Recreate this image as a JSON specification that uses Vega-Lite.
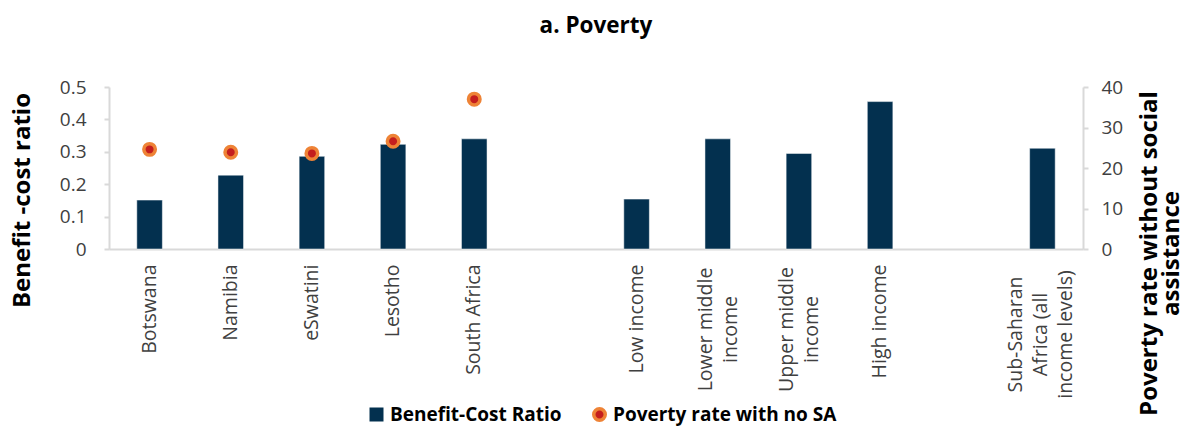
{
  "$schema": "https://vega.github.io/schema/vega-lite/v6.json",
  "width": 974,
  "height": 162,
  "autosize": {"type": "none"},
  "padding": {"left": 109, "top": 87, "right": 106, "bottom": 177},
  "config": {"view": {"stroke": null}, "font": "Open Sans"},
  "title": {
    "text": "a. Poverty",
    "anchor": "middle",
    "fontSize": 22.5,
    "fontWeight": "bold",
    "font": "Open Sans",
    "color": "#000000",
    "baseline": "bottom",
    "offset": 18
  },
  "data": {
    "values": [
      {"category": "Botswana", "bcr": 0.151, "poverty": 24.6},
      {"category": "Namibia", "bcr": 0.228, "poverty": 23.9},
      {"category": "eSwatini", "bcr": 0.286, "poverty": 23.6},
      {"category": "Lesotho", "bcr": 0.323, "poverty": 26.6},
      {"category": "South Africa", "bcr": 0.340, "poverty": 37.0},
      {"category": "Low income", "bcr": 0.154, "poverty": null},
      {"category": "Lower middle income", "bcr": 0.340, "poverty": null},
      {"category": "Upper middle income", "bcr": 0.295, "poverty": null},
      {"category": "High income", "bcr": 0.455, "poverty": null},
      {"category": "Sub-Saharan Africa (all income levels)", "bcr": 0.311, "poverty": null}
    ]
  },
  "encoding": {
    "x": {
      "field": "category",
      "type": "nominal",
      "sort": null,
      "scale": {
        "domain": ["Botswana", "Namibia", "eSwatini", "Lesotho", "South Africa", "gap1", "Low income", "Lower middle income", "Upper middle income", "High income", "gap2", "Sub-Saharan Africa (all income levels)"],
        "paddingInner": 0.685,
        "paddingOuter": 0.3425
      },
      "axis": {
        "title": null,
        "labelAngle": -90,
        "labelAlign": {
          "condition": {"test": "datum.value === 'Lower middle income' || datum.value === 'Upper middle income' || datum.value === 'Sub-Saharan Africa (all income levels)'", "value": "center"},
          "value": "right"
        },
        "labelBaseline": "middle",
        "labelFont": "Open Sans",
        "labelFontSize": 19.5,
        "labelColor": "#404040",
        "labelPadding": {
          "condition": [
            {"test": "datum.value === 'Lower middle income' || datum.value === 'Upper middle income'", "value": 80},
            {"test": "datum.value === 'Sub-Saharan Africa (all income levels)'", "value": 85}
          ],
          "value": 15
        },
        "labelOffset": {
          "condition": [
            {"test": "datum.value === 'Lower middle income' || datum.value === 'Upper middle income'", "value": -12},
            {"test": "datum.value === 'Sub-Saharan Africa (all income levels)'", "value": -26}
          ],
          "value": 0
        },
        "labelLineHeight": 25,
        "labelLimit": 300,
        "ticks": false,
        "domainColor": "#D9D9D9",
        "domainWidth": 2,
        "labelExpr": "indexof(datum.value, 'gap') === 0 ? '' : datum.value === 'Lower middle income' ? ['Lower middle', 'income'] : datum.value === 'Upper middle income' ? ['Upper middle', 'income'] : datum.value === 'Sub-Saharan Africa (all income levels)' ? ['Sub-Saharan', 'Africa (all', 'income levels)'] : datum.value"
      }
    }
  },
  "layer": [
    {
      "mark": {"type": "bar", "stroke": "#FFFFFF", "strokeWidth": 0.5},
      "encoding": {
        "y": {
          "field": "bcr",
          "type": "quantitative",
          "scale": {"domain": [0, 0.5]},
          "axis": {
            "orient": "left",
            "values": [0, 0.1, 0.2, 0.3, 0.4, 0.5],
            "format": ".1~f",
            "grid": false,
            "title": "Benefit -cost ratio",
            "titleFont": "Open Sans",
            "titleFontSize": 24,
            "titleFontWeight": "bold",
            "titleColor": "#000000",
            "titleAngle": -90,
            "titleAlign": "center",
            "titleBaseline": "top",
            "titleX": -99,
            "titleY": 113,
            "labelFont": "Open Sans",
            "labelFontSize": 19,
            "labelColor": "#404040",
            "labelPadding": 18,
            "tickSize": 5,
            "tickColor": "#D9D9D9",
            "tickWidth": 2,
            "domainColor": "#D9D9D9",
            "domainWidth": 2
          }
        },
        "color": {
          "datum": "Benefit-Cost Ratio",
          "type": "nominal",
          "scale": {"domain": ["Benefit-Cost Ratio"], "range": ["#03304F"]},
          "legend": {
            "title": null,
            "orient": "none",
            "direction": "horizontal",
            "legendX": 258,
            "legendY": 318,
            "labelFont": "Open Sans",
            "labelFontSize": 19,
            "labelFontWeight": "bold",
            "labelColor": "#000000",
            "labelOffset": 4,
            "labelLimit": 400,
            "symbolType": "square",
            "symbolSize": 196,
            "symbolStrokeWidth": 0
          }
        }
      }
    },
    {
      "mark": {"type": "point", "filled": true, "opacity": 1, "fill": "#C41E1E", "strokeWidth": 3.5, "size": 132, "shape": "circle"},
      "encoding": {
        "y": {
          "field": "poverty",
          "type": "quantitative",
          "scale": {"domain": [0, 40]},
          "axis": {
            "orient": "right",
            "values": [0, 10, 20, 30, 40],
            "grid": false,
            "title": ["Poverty rate without social", "assistance"],
            "titleFont": "Open Sans",
            "titleFontSize": 24,
            "titleFontWeight": "bold",
            "titleColor": "#000000",
            "titleAngle": -90,
            "titleAlign": "center",
            "titleBaseline": "top",
            "titleLineHeight": 22,
            "titleX": 54,
            "titleY": 166,
            "labelFont": "Open Sans",
            "labelFontSize": 19,
            "labelColor": "#404040",
            "labelPadding": 13,
            "tickSize": 5,
            "tickColor": "#D9D9D9",
            "tickWidth": 2,
            "domainColor": "#D9D9D9",
            "domainWidth": 2
          }
        },
        "stroke": {
          "datum": "Poverty rate with no SA",
          "type": "nominal",
          "scale": {"domain": ["Poverty rate with no SA"], "range": ["#EE8336"]},
          "legend": {
            "title": null,
            "orient": "none",
            "direction": "horizontal",
            "legendX": 481,
            "legendY": 318,
            "labelFont": "Open Sans",
            "labelFontSize": 19,
            "labelFontWeight": "bold",
            "labelColor": "#000000",
            "labelOffset": 4,
            "labelLimit": 400,
            "symbolType": "circle",
            "symbolSize": 132,
            "symbolFillColor": "#C41E1E",
            "symbolStrokeWidth": 3.5
          }
        }
      }
    }
  ],
  "resolve": {"scale": {"y": "independent"}}
}
